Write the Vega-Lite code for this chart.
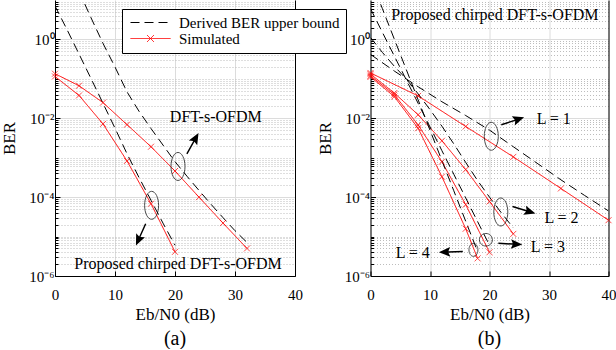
{
  "$schema": "https://vega.github.io/schema/vega-lite/v6.json",
  "background": "white",
  "padding": {"left": 0, "top": 0, "right": 0, "bottom": 0},
  "bounds": "flush",
  "spacing": 75.5,
  "config": {
    "font": "Liberation Serif",
    "view": {"stroke": null},
    "axis": {"labelFont": "Liberation Serif", "titleFont": "Liberation Serif", "labelColor": "black", "titleColor": "black", "titleFontWeight": "normal", "domainColor": "black", "tickColor": "black", "labelFontSize": 15, "titleFontSize": 17, "labelFlush": false, "labelOverlap": false},
    "title": {"font": "Liberation Serif", "fontWeight": "normal", "color": "black", "fontSize": 20}
  },
  "resolve": {"scale": {"color": "independent", "strokeDash": "independent", "shape": "independent"}, "legend": {"color": "independent", "strokeDash": "independent", "shape": "independent"}},
  "datasets": {
    "a_lines": [
      {"series": "dft_sim", "type": "Simulated", "snr": 0, "ber": 0.135},
      {"series": "dft_sim", "type": "Simulated", "snr": 4, "ber": 0.067},
      {"series": "dft_sim", "type": "Simulated", "snr": 8, "ber": 0.025},
      {"series": "dft_sim", "type": "Simulated", "snr": 12, "ber": 0.0069},
      {"series": "dft_sim", "type": "Simulated", "snr": 16, "ber": 0.0019},
      {"series": "dft_sim", "type": "Simulated", "snr": 20, "ber": 0.00046},
      {"series": "dft_sim", "type": "Simulated", "snr": 24, "ber": 0.0001},
      {"series": "dft_sim", "type": "Simulated", "snr": 28, "ber": 0.000022},
      {"series": "dft_sim", "type": "Simulated", "snr": 32, "ber": 0.000005},
      {"series": "chirp_sim", "type": "Simulated", "snr": 0, "ber": 0.115},
      {"series": "chirp_sim", "type": "Simulated", "snr": 4, "ber": 0.038},
      {"series": "chirp_sim", "type": "Simulated", "snr": 8, "ber": 0.0072},
      {"series": "chirp_sim", "type": "Simulated", "snr": 12, "ber": 0.00083},
      {"series": "chirp_sim", "type": "Simulated", "snr": 16, "ber": 0.000068},
      {"series": "chirp_sim", "type": "Simulated", "snr": 20, "ber": 0.0000041},
      {"series": "dft_bound", "type": "Derived BER upper bound", "snr": 4, "ber": 16.6},
      {"series": "dft_bound", "type": "Derived BER upper bound", "snr": 6, "ber": 3.55},
      {"series": "dft_bound", "type": "Derived BER upper bound", "snr": 8, "ber": 0.794},
      {"series": "dft_bound", "type": "Derived BER upper bound", "snr": 10, "ber": 0.2},
      {"series": "dft_bound", "type": "Derived BER upper bound", "snr": 12, "ber": 0.0468},
      {"series": "dft_bound", "type": "Derived BER upper bound", "snr": 14, "ber": 0.0151},
      {"series": "dft_bound", "type": "Derived BER upper bound", "snr": 16, "ber": 0.0055},
      {"series": "dft_bound", "type": "Derived BER upper bound", "snr": 18, "ber": 0.00209},
      {"series": "dft_bound", "type": "Derived BER upper bound", "snr": 20, "ber": 0.000794},
      {"series": "dft_bound", "type": "Derived BER upper bound", "snr": 22, "ber": 0.000339},
      {"series": "dft_bound", "type": "Derived BER upper bound", "snr": 24, "ber": 0.000148},
      {"series": "dft_bound", "type": "Derived BER upper bound", "snr": 26, "ber": 0.000066},
      {"series": "dft_bound", "type": "Derived BER upper bound", "snr": 28, "ber": 0.0000302},
      {"series": "dft_bound", "type": "Derived BER upper bound", "snr": 30, "ber": 0.0000141},
      {"series": "dft_bound", "type": "Derived BER upper bound", "snr": 32, "ber": 0.0000071},
      {"series": "chirp_bound", "type": "Derived BER upper bound", "snr": 0, "ber": 7.08},
      {"series": "chirp_bound", "type": "Derived BER upper bound", "snr": 2, "ber": 1.78},
      {"series": "chirp_bound", "type": "Derived BER upper bound", "snr": 4, "ber": 0.427},
      {"series": "chirp_bound", "type": "Derived BER upper bound", "snr": 6, "ber": 0.102},
      {"series": "chirp_bound", "type": "Derived BER upper bound", "snr": 8, "ber": 0.024},
      {"series": "chirp_bound", "type": "Derived BER upper bound", "snr": 10, "ber": 0.00562},
      {"series": "chirp_bound", "type": "Derived BER upper bound", "snr": 12, "ber": 0.00126},
      {"series": "chirp_bound", "type": "Derived BER upper bound", "snr": 14, "ber": 0.000316},
      {"series": "chirp_bound", "type": "Derived BER upper bound", "snr": 16, "ber": 0.0000832},
      {"series": "chirp_bound", "type": "Derived BER upper bound", "snr": 18, "ber": 0.0000219},
      {"series": "chirp_bound", "type": "Derived BER upper bound", "snr": 20, "ber": 0.00000603}
    ],
    "b_lines": [
      {"series": "L1_sim", "type": "Simulated", "snr": 0, "ber": 0.141},
      {"series": "L1_sim", "type": "Simulated", "snr": 8, "ber": 0.037},
      {"series": "L1_sim", "type": "Simulated", "snr": 16, "ber": 0.0062},
      {"series": "L1_sim", "type": "Simulated", "snr": 24, "ber": 0.00105},
      {"series": "L1_sim", "type": "Simulated", "snr": 32, "ber": 0.000166},
      {"series": "L1_sim", "type": "Simulated", "snr": 40, "ber": 0.000026},
      {"series": "L2_sim", "type": "Simulated", "snr": 0, "ber": 0.132},
      {"series": "L2_sim", "type": "Simulated", "snr": 4, "ber": 0.0437},
      {"series": "L2_sim", "type": "Simulated", "snr": 8, "ber": 0.0123},
      {"series": "L2_sim", "type": "Simulated", "snr": 12, "ber": 0.00269},
      {"series": "L2_sim", "type": "Simulated", "snr": 16, "ber": 0.0005},
      {"series": "L2_sim", "type": "Simulated", "snr": 20, "ber": 0.0000776},
      {"series": "L2_sim", "type": "Simulated", "snr": 24, "ber": 0.0000117},
      {"series": "L3_sim", "type": "Simulated", "snr": 0, "ber": 0.12},
      {"series": "L3_sim", "type": "Simulated", "snr": 4, "ber": 0.0398},
      {"series": "L3_sim", "type": "Simulated", "snr": 8, "ber": 0.0068},
      {"series": "L3_sim", "type": "Simulated", "snr": 12, "ber": 0.00079},
      {"series": "L3_sim", "type": "Simulated", "snr": 16, "ber": 0.0000646},
      {"series": "L3_sim", "type": "Simulated", "snr": 20, "ber": 0.000004},
      {"series": "L4_sim", "type": "Simulated", "snr": 0, "ber": 0.112},
      {"series": "L4_sim", "type": "Simulated", "snr": 4, "ber": 0.0355},
      {"series": "L4_sim", "type": "Simulated", "snr": 8, "ber": 0.0056},
      {"series": "L4_sim", "type": "Simulated", "snr": 12, "ber": 0.00033},
      {"series": "L4_sim", "type": "Simulated", "snr": 16, "ber": 0.0000158},
      {"series": "L4_sim", "type": "Simulated", "snr": 18, "ber": 0.0000028},
      {"series": "L1_bound", "type": "Derived BER upper bound", "snr": 0, "ber": 0.417},
      {"series": "L1_bound", "type": "Derived BER upper bound", "snr": 4, "ber": 0.158},
      {"series": "L1_bound", "type": "Derived BER upper bound", "snr": 8, "ber": 0.0631},
      {"series": "L1_bound", "type": "Derived BER upper bound", "snr": 12, "ber": 0.0263},
      {"series": "L1_bound", "type": "Derived BER upper bound", "snr": 16, "ber": 0.01175},
      {"series": "L1_bound", "type": "Derived BER upper bound", "snr": 20, "ber": 0.00501},
      {"series": "L1_bound", "type": "Derived BER upper bound", "snr": 24, "ber": 0.0019},
      {"series": "L1_bound", "type": "Derived BER upper bound", "snr": 28, "ber": 0.000724},
      {"series": "L1_bound", "type": "Derived BER upper bound", "snr": 32, "ber": 0.000275},
      {"series": "L1_bound", "type": "Derived BER upper bound", "snr": 36, "ber": 0.00011},
      {"series": "L1_bound", "type": "Derived BER upper bound", "snr": 40, "ber": 0.0000447},
      {"series": "L2_bound", "type": "Derived BER upper bound", "snr": 0, "ber": 1.122},
      {"series": "L2_bound", "type": "Derived BER upper bound", "snr": 2, "ber": 0.468},
      {"series": "L2_bound", "type": "Derived BER upper bound", "snr": 4, "ber": 0.209},
      {"series": "L2_bound", "type": "Derived BER upper bound", "snr": 6, "ber": 0.1},
      {"series": "L2_bound", "type": "Derived BER upper bound", "snr": 8, "ber": 0.0417},
      {"series": "L2_bound", "type": "Derived BER upper bound", "snr": 10, "ber": 0.0166},
      {"series": "L2_bound", "type": "Derived BER upper bound", "snr": 12, "ber": 0.00631},
      {"series": "L2_bound", "type": "Derived BER upper bound", "snr": 14, "ber": 0.00224},
      {"series": "L2_bound", "type": "Derived BER upper bound", "snr": 16, "ber": 0.000759},
      {"series": "L2_bound", "type": "Derived BER upper bound", "snr": 18, "ber": 0.000263},
      {"series": "L2_bound", "type": "Derived BER upper bound", "snr": 20, "ber": 0.0001},
      {"series": "L2_bound", "type": "Derived BER upper bound", "snr": 22, "ber": 0.0000398},
      {"series": "L2_bound", "type": "Derived BER upper bound", "snr": 24, "ber": 0.0000166},
      {"series": "L3_bound", "type": "Derived BER upper bound", "snr": 0, "ber": 6.03},
      {"series": "L3_bound", "type": "Derived BER upper bound", "snr": 2, "ber": 1.51},
      {"series": "L3_bound", "type": "Derived BER upper bound", "snr": 4, "ber": 0.38},
      {"series": "L3_bound", "type": "Derived BER upper bound", "snr": 6, "ber": 0.0955},
      {"series": "L3_bound", "type": "Derived BER upper bound", "snr": 8, "ber": 0.024},
      {"series": "L3_bound", "type": "Derived BER upper bound", "snr": 10, "ber": 0.00603},
      {"series": "L3_bound", "type": "Derived BER upper bound", "snr": 12, "ber": 0.00151},
      {"series": "L3_bound", "type": "Derived BER upper bound", "snr": 14, "ber": 0.00038},
      {"series": "L3_bound", "type": "Derived BER upper bound", "snr": 16, "ber": 0.0000955},
      {"series": "L3_bound", "type": "Derived BER upper bound", "snr": 18, "ber": 0.000024},
      {"series": "L3_bound", "type": "Derived BER upper bound", "snr": 20, "ber": 0.00000603},
      {"series": "L4_bound", "type": "Derived BER upper bound", "snr": 0, "ber": 35.5},
      {"series": "L4_bound", "type": "Derived BER upper bound", "snr": 2, "ber": 6.03},
      {"series": "L4_bound", "type": "Derived BER upper bound", "snr": 4, "ber": 1.02},
      {"series": "L4_bound", "type": "Derived BER upper bound", "snr": 6, "ber": 0.174},
      {"series": "L4_bound", "type": "Derived BER upper bound", "snr": 8, "ber": 0.0295},
      {"series": "L4_bound", "type": "Derived BER upper bound", "snr": 10, "ber": 0.00501},
      {"series": "L4_bound", "type": "Derived BER upper bound", "snr": 12, "ber": 0.000851},
      {"series": "L4_bound", "type": "Derived BER upper bound", "snr": 14, "ber": 0.000145},
      {"series": "L4_bound", "type": "Derived BER upper bound", "snr": 16, "ber": 0.0000245},
      {"series": "L4_bound", "type": "Derived BER upper bound", "snr": 18, "ber": 0.00000417}
    ],
    "a_notes": [
      {"label": "DFT-s-OFDM", "snr": 26.8, "ber": 0.011},
      {"label": "Proposed chirped DFT-s-OFDM", "snr": 20.5, "ber": 0.000002}
    ],
    "b_notes": [
      {"label": "Proposed chirped DFT-s-OFDM", "snr": 20.9, "ber": 4.2},
      {"label": "L = 1", "snr": 30.8, "ber": 0.0096},
      {"label": "L = 2", "snr": 32.1, "ber": 0.00003},
      {"label": "L = 3", "snr": 29.8, "ber": 0.0000055},
      {"label": "L = 4", "snr": 7.1, "ber": 0.0000039}
    ],
    "a_rings": [
      {"kind": "tall", "snr": 20.5, "ber": 0.0006},
      {"kind": "tall", "snr": 16.1, "ber": 0.000062}
    ],
    "b_rings": [
      {"kind": "tall", "snr": 20.3, "ber": 0.0035},
      {"kind": "tall", "snr": 21.9, "ber": 0.000042},
      {"kind": "round", "snr": 19.4, "ber": 0.0000083},
      {"kind": "small", "snr": 17.3, "ber": 0.0000046}
    ],
    "a_arrows": [
      {"snr": 22.95, "ber": 0.0023, "dir": 29},
      {"snr": 14.3, "ber": 0.0000112, "dir": 204}
    ],
    "b_arrows": [
      {"snr": 23.9, "ber": 0.0085, "dir": 72},
      {"snr": 25.8, "ber": 0.000047, "dir": 107},
      {"snr": 23.5, "ber": 0.0000065, "dir": 93},
      {"snr": 13.5, "ber": 0.0000041, "dir": 268}
    ]
  },
  "hconcat": [
    {
      "width": 240,
      "height": 276,
      "title": {"text": "(a)", "orient": "bottom", "offset": 7},
      "resolve": {"axis": {"y": "independent"}},
      "layer": [
        {
          "data": {"name": "a_lines"},
          "mark": {"type": "line", "clip": true, "strokeWidth": 1},
          "encoding": {
            "x": {"field": "snr", "type": "quantitative", "scale": {"domain": [0, 40], "nice": false},
              "axis": {"title": "Eb/N0 (dB)", "values": [0, 10, 20, 30, 40], "grid": true, "gridColor": "#dcdcdc", "tickSize": -5, "labelPadding": 16, "titlePadding": 4}},
            "y": {"field": "ber", "type": "quantitative", "scale": {"type": "log", "domain": [0.000001, 10], "nice": false},
              "axis": {"title": "BER", "titlePadding": 10, "labelPadding": 6,
                "values": [0.000001,0.000002,0.000003,0.000004,0.000005,0.000006,0.000007,0.000008,0.000009,0.00001,0.00002,0.00003,0.00004,0.00005,0.00006,0.00007,0.00008,0.00009,0.0001,0.0002,0.0003,0.0004,0.0005,0.0006,0.0007,0.0008,0.0009,0.001,0.002,0.003,0.004,0.005,0.006,0.007,0.008,0.009,0.01,0.02,0.03,0.04,0.05,0.06,0.07,0.08,0.09,0.1,0.2,0.3,0.4,0.5,0.6,0.7,0.8,0.9,1,2,3,4,5,6,7,8,9],
                "labelExpr": "datum.value === 1 ? '10⁰' : datum.value === 0.01 ? '10⁻²' : datum.value === 0.0001 ? '10⁻⁴' : datum.value === 0.000001 ? '10⁻⁶' : ''",
                "labelFontSize": {"condition": {"test": "datum.value === 1 || datum.value === 0.01 || datum.value === 0.0001 || datum.value === 0.000001", "value": 15}, "value": 0},
                "grid": true,
                "gridColor": {"condition": {"test": "datum.value === 1 || datum.value === 0.01 || datum.value === 0.0001 || datum.value === 0.000001", "value": "#dcdcdc"}, "value": "#bdbdbd"},
                "gridDash": {"condition": {"test": "datum.value === 1 || datum.value === 0.01 || datum.value === 0.0001 || datum.value === 0.000001", "value": []}, "value": [1, 2]},
                "tickSize": {"condition": {"test": "datum.value === 1 || datum.value === 0.01 || datum.value === 0.0001 || datum.value === 0.000001", "value": -5}, "value": -3}}},
            "detail": {"field": "series"},
            "color": {"field": "type", "type": "nominal", "scale": {"domain": ["Derived BER upper bound", "Simulated"], "range": ["black", "red"]},
              "legend": {"title": null, "orient": "none", "legendX": 67, "legendY": 9, "direction": "vertical", "strokeColor": "black", "fillColor": "white", "padding": 6, "labelFont": "Liberation Serif", "labelFontSize": 15, "labelColor": "black", "labelLimit": 400, "symbolSize": 100, "symbolOffset": 15, "labelOffset": 21, "rowPadding": 0, "symbolStrokeWidth": 1, "cornerRadius": 0,
                "encode": {"symbols": {"update": {"shape": {"signal": "datum.value === 'Simulated' ? 'M-4,0L4,0M-0.7,-0.7L0.7,0.7M-0.7,0.7L0.7,-0.7' : 'M-4,0L4,0'"}}}}}},
            "strokeDash": {"field": "type", "type": "nominal", "scale": {"domain": ["Derived BER upper bound", "Simulated"], "range": [[9, 5], [1, 0]]},
              "legend": {"title": null, "orient": "none", "legendX": 67, "legendY": 9, "direction": "vertical", "strokeColor": "black", "fillColor": "white", "padding": 6, "labelFont": "Liberation Serif", "labelFontSize": 15, "labelColor": "black", "labelLimit": 400, "symbolSize": 100, "symbolOffset": 15, "labelOffset": 21, "rowPadding": 0, "symbolStrokeWidth": 1, "cornerRadius": 0}}
          }
        },
        {
          "data": {"name": "a_lines"},
          "transform": [{"filter": "datum.type === 'Simulated'"}],
          "mark": {"type": "point", "shape": "M-1,-1L1,1M-1,1L1,-1", "filled": false, "size": 36, "strokeWidth": 1, "color": "red"},
          "encoding": {
            "x": {"field": "snr", "type": "quantitative"},
            "y": {"field": "ber", "type": "quantitative", "axis": null}
          }
        },
        {
          "data": {"name": "a_notes"},
          "mark": {"type": "text", "font": "Liberation Serif", "fontSize": 16, "color": "black", "align": "center", "baseline": "middle"},
          "encoding": {
            "x": {"field": "snr", "type": "quantitative"},
            "y": {"field": "ber", "type": "quantitative", "axis": null},
            "text": {"field": "label"}
          }
        },
        {
          "data": {"name": "a_rings"},
          "mark": {"type": "point", "filled": false, "size": 784, "strokeWidth": 1, "color": "black"},
          "encoding": {
            "x": {"field": "snr", "type": "quantitative"},
            "y": {"field": "ber", "type": "quantitative",
              "axis": {"orient": "right", "labels": false, "title": null, "grid": false, "ticks": false, "domainColor": "black"}},
            "shape": {"field": "kind", "type": "nominal", "legend": null,
              "scale": {"domain": ["tall", "round", "small"], "range": [
                "M0,-1C0.276,-1,0.5,-0.552,0.5,0C0.5,0.552,0.276,1,0,1C-0.276,1,-0.5,0.552,-0.5,0C-0.5,-0.552,-0.276,-1,0,-1Z",
                "M0,-0.45C0.256,-0.45,0.464,-0.248,0.464,0C0.464,0.248,0.256,0.45,0,0.45C-0.256,0.45,-0.464,0.248,-0.464,0C-0.464,-0.248,-0.256,-0.45,0,-0.45Z",
                "M0,-0.464C0.177,-0.464,0.32,-0.256,0.32,0C0.32,0.256,0.177,0.464,0,0.464C-0.177,0.464,-0.32,0.256,-0.32,0C-0.32,-0.256,-0.177,-0.464,0,-0.464Z"]}}
          }
        },
        {
          "data": {"name": "a_arrows"},
          "mark": {"type": "point", "filled": true, "size": 576, "color": "black", "strokeWidth": 0, "opacity": 1,
            "shape": "M-0.06,1L0.06,1L0.06,-0.2L0.4,-0.05L0,-1L-0.4,-0.05L-0.06,-0.2Z"},
          "encoding": {
            "x": {"field": "snr", "type": "quantitative"},
            "y": {"field": "ber", "type": "quantitative", "axis": null},
            "angle": {"field": "dir", "type": "quantitative", "scale": null}
          }
        }
      ]
    },
    {
      "width": 238,
      "height": 276,
      "title": {"text": "(b)", "orient": "bottom", "offset": 7},
      "resolve": {"axis": {"y": "independent"}},
      "layer": [
        {
          "data": {"name": "b_lines"},
          "mark": {"type": "line", "clip": true, "strokeWidth": 1},
          "encoding": {
            "x": {"field": "snr", "type": "quantitative", "scale": {"domain": [0, 40], "nice": false},
              "axis": {"title": "Eb/N0 (dB)", "values": [0, 10, 20, 30, 40], "grid": true, "gridColor": "#dcdcdc", "tickSize": -5, "labelPadding": 16, "titlePadding": 4}},
            "y": {"field": "ber", "type": "quantitative", "scale": {"type": "log", "domain": [0.000001, 10], "nice": false},
              "axis": {"title": "BER", "titlePadding": 10, "labelPadding": 6,
                "values": [0.000001,0.000002,0.000003,0.000004,0.000005,0.000006,0.000007,0.000008,0.000009,0.00001,0.00002,0.00003,0.00004,0.00005,0.00006,0.00007,0.00008,0.00009,0.0001,0.0002,0.0003,0.0004,0.0005,0.0006,0.0007,0.0008,0.0009,0.001,0.002,0.003,0.004,0.005,0.006,0.007,0.008,0.009,0.01,0.02,0.03,0.04,0.05,0.06,0.07,0.08,0.09,0.1,0.2,0.3,0.4,0.5,0.6,0.7,0.8,0.9,1,2,3,4,5,6,7,8,9],
                "labelExpr": "datum.value === 1 ? '10⁰' : datum.value === 0.01 ? '10⁻²' : datum.value === 0.0001 ? '10⁻⁴' : datum.value === 0.000001 ? '10⁻⁶' : ''",
                "labelFontSize": {"condition": {"test": "datum.value === 1 || datum.value === 0.01 || datum.value === 0.0001 || datum.value === 0.000001", "value": 15}, "value": 0},
                "grid": true,
                "gridColor": {"condition": {"test": "datum.value === 1 || datum.value === 0.01 || datum.value === 0.0001 || datum.value === 0.000001", "value": "#dcdcdc"}, "value": "#bdbdbd"},
                "gridDash": {"condition": {"test": "datum.value === 1 || datum.value === 0.01 || datum.value === 0.0001 || datum.value === 0.000001", "value": []}, "value": [1, 2]},
                "tickSize": {"condition": {"test": "datum.value === 1 || datum.value === 0.01 || datum.value === 0.0001 || datum.value === 0.000001", "value": -5}, "value": -3}}},
            "detail": {"field": "series"},
            "color": {"field": "type", "type": "nominal", "scale": {"domain": ["Derived BER upper bound", "Simulated"], "range": ["black", "red"]}, "legend": null},
            "strokeDash": {"field": "type", "type": "nominal", "scale": {"domain": ["Derived BER upper bound", "Simulated"], "range": [[9, 5], [1, 0]]}, "legend": null}
          }
        },
        {
          "data": {"name": "b_lines"},
          "transform": [{"filter": "datum.type === 'Simulated'"}],
          "mark": {"type": "point", "shape": "M-1,-1L1,1M-1,1L1,-1", "filled": false, "size": 36, "strokeWidth": 1, "color": "red"},
          "encoding": {
            "x": {"field": "snr", "type": "quantitative"},
            "y": {"field": "ber", "type": "quantitative", "axis": null}
          }
        },
        {
          "data": {"name": "b_notes"},
          "mark": {"type": "text", "font": "Liberation Serif", "fontSize": 16, "color": "black", "align": "center", "baseline": "middle"},
          "encoding": {
            "x": {"field": "snr", "type": "quantitative"},
            "y": {"field": "ber", "type": "quantitative", "axis": null},
            "text": {"field": "label"}
          }
        },
        {
          "data": {"name": "b_rings"},
          "mark": {"type": "point", "filled": false, "size": 784, "strokeWidth": 1, "color": "black"},
          "encoding": {
            "x": {"field": "snr", "type": "quantitative"},
            "y": {"field": "ber", "type": "quantitative",
              "axis": {"orient": "right", "labels": false, "title": null, "grid": false, "ticks": false, "domainColor": "black"}},
            "shape": {"field": "kind", "type": "nominal", "legend": null,
              "scale": {"domain": ["tall", "round", "small"], "range": [
                "M0,-1C0.276,-1,0.5,-0.552,0.5,0C0.5,0.552,0.276,1,0,1C-0.276,1,-0.5,0.552,-0.5,0C-0.5,-0.552,-0.276,-1,0,-1Z",
                "M0,-0.45C0.256,-0.45,0.464,-0.248,0.464,0C0.464,0.248,0.256,0.45,0,0.45C-0.256,0.45,-0.464,0.248,-0.464,0C-0.464,-0.248,-0.256,-0.45,0,-0.45Z",
                "M0,-0.464C0.177,-0.464,0.32,-0.256,0.32,0C0.32,0.256,0.177,0.464,0,0.464C-0.177,0.464,-0.32,0.256,-0.32,0C-0.32,-0.256,-0.177,-0.464,0,-0.464Z"]}}
          }
        },
        {
          "data": {"name": "b_arrows"},
          "mark": {"type": "point", "filled": true, "size": 576, "color": "black", "strokeWidth": 0, "opacity": 1,
            "shape": "M-0.06,1L0.06,1L0.06,-0.2L0.4,-0.05L0,-1L-0.4,-0.05L-0.06,-0.2Z"},
          "encoding": {
            "x": {"field": "snr", "type": "quantitative"},
            "y": {"field": "ber", "type": "quantitative", "axis": null},
            "angle": {"field": "dir", "type": "quantitative", "scale": null}
          }
        }
      ]
    }
  ]
}
